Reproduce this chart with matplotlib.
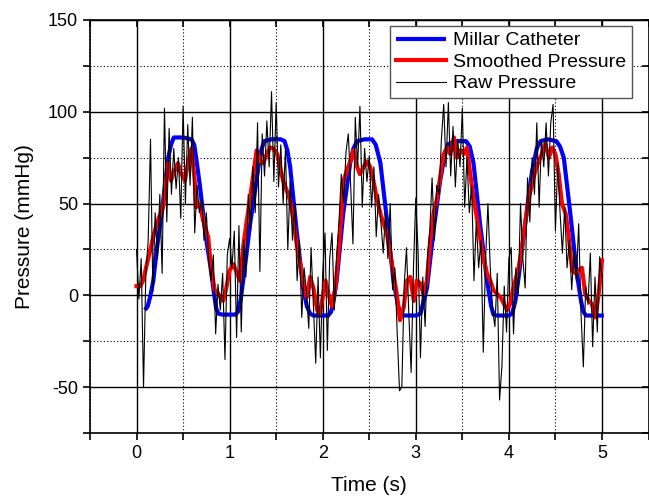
import numpy as np
import matplotlib
matplotlib.use('Agg')
import matplotlib.pyplot as plt

plt.rcParams['font.family'] = ['Liberation Sans', 'DejaVu Sans']
plt.rcParams['axes.unicode_minus'] = False

# Millar catheter (reference pressure)
millar_t = [0.09, 0.12, 0.15, 0.18, 0.22, 0.27, 0.31, 0.34, 0.37, 0.40, 0.50, 0.59, 0.62,
            0.64, 0.68, 0.715, 0.75, 0.79, 0.83, 0.855, 0.88, 0.92, 1.00, 1.06, 1.09,
            1.12, 1.145, 1.18, 1.22, 1.27, 1.31, 1.34, 1.37, 1.45, 1.55, 1.59, 1.62,
            1.65, 1.72, 1.79, 1.83, 1.865, 1.9, 2.0, 2.06, 2.09,
            2.12, 2.15, 2.22, 2.295, 2.33, 2.37, 2.45, 2.53, 2.57,
            2.62, 2.69, 2.76, 2.81, 2.85, 2.88, 3.0, 3.05,
            3.08, 3.12, 3.19, 3.26, 3.31, 3.35, 3.45, 3.54, 3.58,
            3.62, 3.69, 3.765, 3.81, 3.835, 3.87, 4.0, 4.035,
            4.07, 4.10, 4.18, 4.25, 4.30, 4.34, 4.42, 4.51, 4.55,
            4.59, 4.66, 4.73, 4.775, 4.80, 4.83, 4.95, 5.02]
millar_p = [-8, -6, 0, 8, 26, 44.5, 62, 75, 82, 86, 86, 85, 82,
            75, 60, 44.5, 30, 17, 2, -7, -10, -10.5, -10.5, -10.5, -9,
            -2, 8, 22, 39, 56, 70, 79, 84, 85, 85, 84, 79,
            70, 35, 4, -6, -10, -11, -11, -11, -9,
            -2, 8, 44.5, 72, 80, 84, 85, 85, 82,
            72, 41, 8, -6, -10.5, -11, -11, -10,
            -4, 4, 35, 62, 76, 82.5, 84, 84, 81,
            72, 39, 8, -6, -10.5, -11, -11, -10,
            -3, 8, 41, 68, 80, 84, 85, 84, 81,
            75, 44.5, 12, -3, -9, -11, -11, -11]

# smoothed pressure
smooth_t = [0.0, 0.04, 0.07, 0.12, 0.18, 0.23, 0.285, 0.32, 0.34, 0.37, 0.41, 0.445, 0.48,
            0.52, 0.555, 0.59, 0.625, 0.64, 0.68, 0.715, 0.77, 0.80, 0.84, 0.875, 0.93,
            0.96, 1.0, 1.04, 1.08, 1.11, 1.145, 1.185, 1.22, 1.255, 1.29, 1.33, 1.36,
            1.40, 1.435, 1.47, 1.51, 1.54, 1.575, 1.615, 1.65, 1.685, 1.72, 1.76, 1.79,
            1.83, 1.865, 1.90, 1.94, 1.97, 2.03, 2.06, 2.10, 2.135, 2.17, 2.205, 2.225,
            2.26, 2.295, 2.33, 2.37, 2.40, 2.44, 2.475, 2.51, 2.545, 2.58, 2.62, 2.655,
            2.69, 2.725, 2.76, 2.80, 2.83, 2.87, 2.905, 2.94, 2.98, 3.01, 3.05, 3.08,
            3.12, 3.155, 3.19, 3.23, 3.26, 3.30, 3.335, 3.37, 3.41, 3.44, 3.48, 3.515,
            3.55, 3.585, 3.62, 3.66, 3.69, 3.73, 3.765, 3.80, 3.835, 3.87, 3.91, 3.945,
            3.98, 4.015, 4.05, 4.105, 4.14, 4.18, 4.215, 4.25, 4.285, 4.32, 4.355, 4.39,
            4.43, 4.465, 4.50, 4.535, 4.57, 4.61, 4.64, 4.68, 4.715, 4.75, 4.785, 4.82,
            4.86, 4.89, 4.93, 4.965, 5.0]
smooth_p = [5, 5, 8, 19, 32, 41, 48, 64, 72, 62.5, 68, 72, 66,
            62.5, 73, 80, 62.5, 48, 50, 41, 31.5, 15, 3, 1, -3,
            3, 13.5, 17, 12, 8, 26, 41, 53, 66, 79, 73, 72,
            77, 80.5, 80, 77, 70, 62.5, 57, 51.6, 41, 28, 17, 6.5,
            -1, 10, 4, -8, -10, 8, 1, -6, 4, 23, 48, 62.5,
            68, 73, 79, 70, 66, 70, 73, 70, 62.5, 53, 44.5, 39,
            33.5, 23, 12, -1, -13.5, -6.5, 8, 10, -3, 8, 6.5, 1,
            8, 30, 44.5, 53, 64, 77, 80.5, 77, 86, 75, 79, 77,
            80.5, 66, 53, 41, 31.5, 19, 12, 8, 2.7, 1, -1, -4.5,
            -8, -4.5, 4.5, 15, 26, 41, 53, 61, 68, 73, 77, 82.5,
            75, 80.5, 77, 66, 50, 44.5, 33.5, 13.5, 12, 13.5, 15, 1,
            -3, -4.5, -12, 1, 19]

# raw pressure, one sample every 0.025 s from 0 to 5 s
raw_p = [25, -2, 20, -50, 12, 30, 85, 2, 45, 20, 55, 12, 102, 40, 91, 55, 80, 58, 75, 42,
         103, 50, 93, 60, 97, 34, 60, 45, 52, 30, 45, 20, 8, 22, -21, 6, -8, 12, -35, 22, 31,
         15, 35, -23, 38, -20, 30, 10, 55, 35, 70, 45, 94, 13, 88, 65, 95, 70, 111, 62, 105,
         59, 82, 50, 80, 25, 62, 30, 50, 8, 30, -12, 15, 2, -18, 26, -5, -37, 10, -34, 12,
         34, -30, 20, 34, -8, 22, 40, 66, 50, 78, 88, 60, 28, 97, 70, 103, 48, 80, 62, 76,
         48, 70, 32, 55, 40, 23, 45, 20, 50, 3, 15, -20, -52, -50, 5, 26, -10, -42, 15, 53,
         23, -34, 10, -17, 20, 35, 64, 30, 60, 55, 85, 104, 70, 105, 65, 92, 59, 85, 70, 102,
         48, 75, 45, 60, 8, 40, 15, 30, -31, 20, 50, 15, -8, -17, 12, -57, -39, 5, -20, 20,
         26, -21, 15, 0, 50, 20, 4, 64, 40, 75, 55, 94, 48, 85, 70, 94, 65, 94, 104, 35,
         72, 45, 23, 48, 15, 30, 3, 25, 8, 39, -10, -39, 5, -5, 23, -28, 10, -20, 21, 10]
raw_t = np.linspace(0, 5, len(raw_p))

fig = plt.figure(figsize=(6.49, 4.96), dpi=100)
ax = fig.add_axes([90 / 649, 1 - 433 / 496, 558.5 / 649, 413 / 496])

ax.plot(millar_t, millar_p, color='#0000ff', lw=3, solid_capstyle='butt',
        label='Millar Catheter', zorder=3)
ax.plot(smooth_t, smooth_p, color='#ff0000', lw=3, label='Smoothed Pressure', zorder=4)
ax.plot(raw_t, raw_p, color='black', lw=0.8, label='Raw Pressure', zorder=5)

ax.set_xlim(-0.5, 5.5)
ax.set_ylim(-75, 150)
ax.set_xticks([0, 1, 2, 3, 4, 5])
ax.set_xticks(np.arange(-0.5, 5.6, 0.5), minor=True)
ax.set_yticks([-50, 0, 50, 100, 150])
ax.set_yticks(np.arange(-75, 151, 25), minor=True)

ax.grid(which='major', color='black', lw=1, ls='-')
ax.grid(which='minor', color='black', lw=0.8, ls=(0, (1, 2)))
ax.set_axisbelow(True)

ax.tick_params(which='both', direction='out', length=5, width=1.2, labelsize=13)
for s in ax.spines.values():
    s.set_linewidth(1.2)

# inward ticks on the top and right
top = ax.secondary_xaxis('top')
top.set_xticks([0, 1, 2, 3, 4, 5])
top.set_xticks(np.arange(-0.5, 5.6, 0.5), minor=True)
top.tick_params(which='both', direction='in', length=5, width=1.2, labeltop=False)
right = ax.secondary_yaxis('right')
right.set_yticks([-50, 0, 50, 100, 150])
right.set_yticks(np.arange(-75, 151, 25), minor=True)
right.tick_params(which='both', direction='in', length=5, width=1.2, labelright=False)

ax.set_xlabel('Time (s)', fontsize=15, labelpad=10)
ax.set_ylabel('Pressure (mmHg)', fontsize=15, labelpad=10)

leg = ax.legend(loc='upper right', bbox_to_anchor=(0.9705, 0.9855), borderaxespad=0,
                fontsize=14, fancybox=False, framealpha=1, edgecolor='#555555',
                handlelength=2.6, handletextpad=0.35, labelspacing=0.2, borderpad=0.3)
leg.get_frame().set_linewidth(1)

fig.savefig('out.png', dpi=100)
